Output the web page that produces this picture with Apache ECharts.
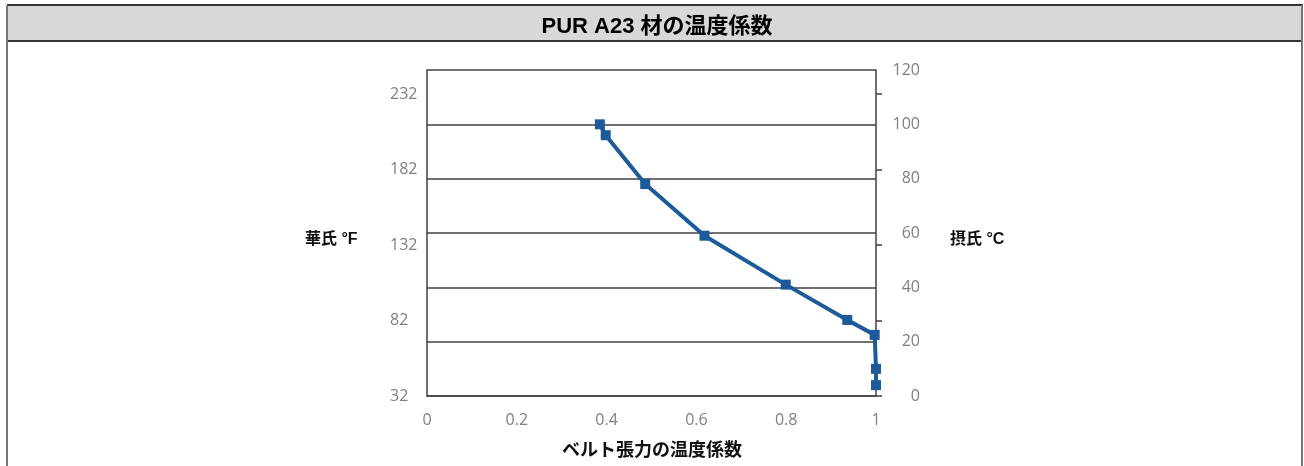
<!DOCTYPE html>
<html><head><meta charset="utf-8">
<script src="https://cdn.jsdelivr.net/npm/echarts@6/dist/echarts.min.js"></script>
<style>html,body{margin:0;padding:0;background:#fff}#c{width:1304px;height:466px}</style>
</head><body><div id="c"></div>
<script>
const titleText = 'PUR A23 材の温度係数';
const xName = 'ベルト張力の温度係数';
const leftName = '華氏 °F';
const rightName = '摂氏 °C';
const xTicks = [0, 0.2, 0.4, 0.6, 0.8, 1];
const fahrenheitLabels = [32, 82, 132, 182, 232];
const celsiusLabels = [0, 20, 40, 60, 80, 100, 120];
const coeffValues = [0.385, 0.398, 0.486, 0.618, 0.799, 0.936, 0.997, 1.0, 1.0];
const tempCValues = [100, 96, 78, 59, 41, 28, 22.5, 10, 4];

const chart = echarts.init(document.getElementById('c'), null, {renderer: 'canvas'});
const labelFont = "'Open Sans', 'Liberation Sans', sans-serif";
const cjkFont = "'Liberation Sans', 'Noto Sans CJK JP', sans-serif";
const axisColor = '#404040';
const fOffset = fahrenheitLabels[0];
const fStep = fahrenheitLabels[1] - fahrenheitLabels[0];
const fTickValues = fahrenheitLabels.map(v => v - fOffset);
const cMax = celsiusLabels[celsiusLabels.length - 1];
const fRangeMax = cMax * 9 / 5; // span in °F above 32

chart.setOption({
  animation: false,
  backgroundColor: '#fff',
  title: {
    text: titleText, left: 652, top: 11, textAlign: 'center',
    textStyle: {fontFamily: cjkFont, fontWeight: 'bold', fontSize: 22, color: '#000'}
  },
  graphic: [
    {type: 'rect', shape: {x: 7, y: 5, width: 1295, height: 36}, style: {fill: '#d8d8d8'}, z: -10},
    {type: 'line', shape: {x1: 7, y1: 5, x2: 1303, y2: 5}, style: {stroke: '#333', lineWidth: 2}},
    {type: 'line', shape: {x1: 7, y1: 41, x2: 1303, y2: 41}, style: {stroke: '#333', lineWidth: 2}},
    {type: 'line', shape: {x1: 7, y1: 5, x2: 7, y2: 466}, style: {stroke: '#777', lineWidth: 2}},
    {type: 'line', shape: {x1: 1302, y1: 5, x2: 1302, y2: 466}, style: {stroke: '#777', lineWidth: 2}},
    {type: 'text', left: 305, top: 232, style: {text: leftName, font: "bold 16px 'Liberation Sans','Noto Sans CJK JP'", fill: '#111'}},
    {type: 'text', left: 950, top: 232, style: {text: rightName, font: "bold 16px 'Liberation Sans','Noto Sans CJK JP'", fill: '#111'}},
    {type: 'text', left: 'center', top: 442, style: {text: xName, font: "bold 18px 'Liberation Sans','Noto Sans CJK JP'", fill: '#111'}}
  ],
  grid: {left: 427, right: 428, top: 70, bottom: 70, containLabel: false},
  xAxis: {
    type: 'value', min: xTicks[0], max: xTicks[xTicks.length - 1], interval: xTicks[1] - xTicks[0],
    axisLine: {show: true, lineStyle: {color: axisColor, width: 1.5}},
    axisTick: {show: false},
    splitLine: {show: false},
    axisLabel: {margin: 16, color: '#7f7f7f', fontSize: 16, fontFamily: labelFont}
  },
  yAxis: [
    {
      type: 'value', position: 'left', min: 0, max: fRangeMax, interval: fStep,
      axisLine: {show: true, lineStyle: {color: axisColor, width: 1.5}},
      axisTick: {show: false}, splitLine: {show: false},
      axisLabel: {margin: 37, align: 'left', color: '#7f7f7f', fontSize: 16, fontFamily: labelFont,
        showMaxLabel: false, formatter: v => String(v + fOffset)}
    },
    {
      type: 'value', position: 'right', min: celsiusLabels[0], max: cMax, interval: celsiusLabels[1] - celsiusLabels[0],
      axisLine: {show: true, lineStyle: {color: axisColor, width: 1.5}},
      axisTick: {show: false},
      splitLine: {show: true, lineStyle: {color: axisColor, width: 1.5}},
      axisLabel: {margin: 44, align: 'right', color: '#7f7f7f', fontSize: 16, fontFamily: labelFont}
    },
    {
      type: 'value', position: 'right', min: 0, max: fRangeMax, interval: fStep,
      axisLine: {show: false}, splitLine: {show: false}, axisLabel: {show: false},
      axisTick: {show: true, inside: false, length: 6, customValues: fTickValues,
        lineStyle: {color: axisColor, width: 1.5}}
    }
  ],
  series: [{
    type: 'line', xAxisIndex: 0, yAxisIndex: 1,
    data: coeffValues.map((x, i) => [x, tempCValues[i]]),
    symbol: 'rect', symbolSize: 10, showSymbol: true,
    lineStyle: {color: '#1c5a99', width: 4},
    itemStyle: {color: '#1c5a99'}
  }]
});
</script></body></html>
